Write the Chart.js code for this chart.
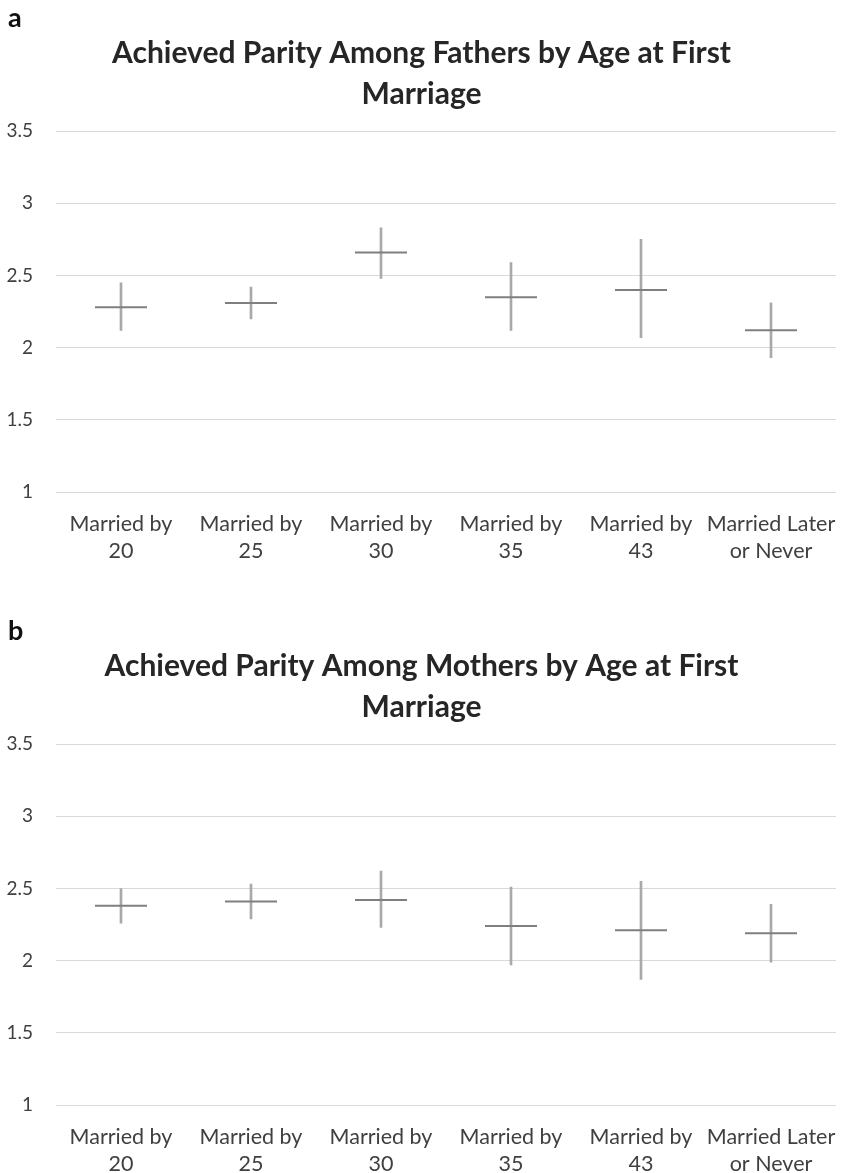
<!DOCTYPE html>
<html>
<head>
<meta charset="utf-8">
<script src="https://cdn.jsdelivr.net/npm/chart.js@4.4.1/dist/chart.umd.min.js"></script>
<style>
  html, body { margin: 0; padding: 0; background: #fff; }
  body { width: 843px; height: 1173px; position: relative; overflow: hidden; font-family: Lato, "Open Sans", sans-serif; }
  .panel { position: absolute; left: 0; width: 843px; }
  .panel canvas { display: block; }
  .tag { position: absolute; left: 8px; font: bold 27px Lato, sans-serif; color: #111; }
</style>
</head>
<body>
<div class="panel" id="panelA" style="top:0;height:580px;">
  <div class="tag" style="top:0px;">a</div>
  <canvas id="chartA" width="843" height="580"></canvas>
</div>
<div class="panel" id="panelB" style="top:613px;height:580px;">
  <div class="tag" style="top:0px;">b</div>
  <canvas id="chartB" width="843" height="580"></canvas>
</div>
<script>
// Marriage-age groups shown along the x axis
const categories = [
  ['Married by', '20'],
  ['Married by', '25'],
  ['Married by', '30'],
  ['Married by', '35'],
  ['Married by', '43'],
  ['Married Later', 'or Never']
];

// y-axis tick values
const yTicks = [1, 1.5, 2, 2.5, 3, 3.5];

// Fathers: mean achieved parity with lower / upper interval bounds
const fathersMean  = [2.28, 2.31, 2.66, 2.35, 2.40, 2.12];
const fathersLow   = [2.12, 2.20, 2.48, 2.12, 2.07, 1.93];
const fathersHigh  = [2.45, 2.42, 2.83, 2.59, 2.75, 2.31];

// Mothers: mean achieved parity with lower / upper interval bounds
const mothersMean  = [2.38, 2.41, 2.42, 2.24, 2.21, 2.19];
const mothersLow   = [2.26, 2.29, 2.23, 1.97, 1.87, 1.99];
const mothersHigh  = [2.50, 2.53, 2.62, 2.51, 2.55, 2.39];

const titles = {
  a: ['Achieved Parity Among Fathers by Age at First', 'Marriage'],
  b: ['Achieved Parity Among Mothers by Age at First', 'Marriage']
};

const FONT = 'Lato, "Open Sans", sans-serif';

function buildChart(canvasId, titleLines, mean, low, high) {
  const ranges = low.map((lo, i) => [lo, high[i]]);
  return new Chart(document.getElementById(canvasId), {
    type: 'bar',
    data: {
      labels: categories,
      datasets: [
        {
          // vertical interval line
          type: 'bar',
          data: ranges,
          backgroundColor: '#a9a9a9',
          borderWidth: 0,
          barThickness: 2,
          order: 2
        },
        {
          // horizontal mean marker
          type: 'line',
          data: mean,
          showLine: false,
          clip: false,
          pointStyle: 'line',
          pointRadius: 26,
          pointHoverRadius: 26,
          pointBorderWidth: 2,
          pointBorderColor: '#7f7f7f',
          borderColor: '#7f7f7f',
          order: 1
        }
      ]
    },
    options: {
      responsive: false,
      animation: false,
      events: [],
      layout: { autoPadding: false, padding: { left: 7, right: 7, top: 0, bottom: 0 } },
      plugins: {
        legend: { display: false },
        tooltip: { enabled: false },
        title: {
          display: true,
          text: titleLines,
          color: '#262626',
          font: { family: FONT, size: 30, weight: 'bold', lineHeight: 1.37 },
          padding: { top: 33, bottom: 16 }
        }
      },
      scales: {
        x: {
          offset: true,
          grid: { display: false },
          border: { display: false },
          ticks: {
            color: '#404040',
            font: { family: FONT, size: 21.5, lineHeight: 1.24 },
            padding: 11,
            maxRotation: 0,
            autoSkip: false
          },
          afterFit(scale) {
            scale.height = 88;
            scale.paddingLeft = 0;
            scale.paddingRight = 0;
          }
        },
        y: {
          min: 1,
          max: 3.5,
          afterBuildTicks(scale) { scale.ticks = yTicks.map(v => ({ value: v })); },
          grid: { color: '#d9d9d9', lineWidth: 1, drawTicks: false },
          border: { display: false },
          ticks: {
            color: '#404040',
            font: { family: FONT, size: 19 },
            padding: 23,
            callback: v => String(v)
          },
          afterFit(scale) { scale.width = 49; }
        }
      }
    }
  });
}

buildChart('chartA', titles.a, fathersMean, fathersLow, fathersHigh);
buildChart('chartB', titles.b, mothersMean, mothersLow, mothersHigh);
</script>
</body>
</html>
